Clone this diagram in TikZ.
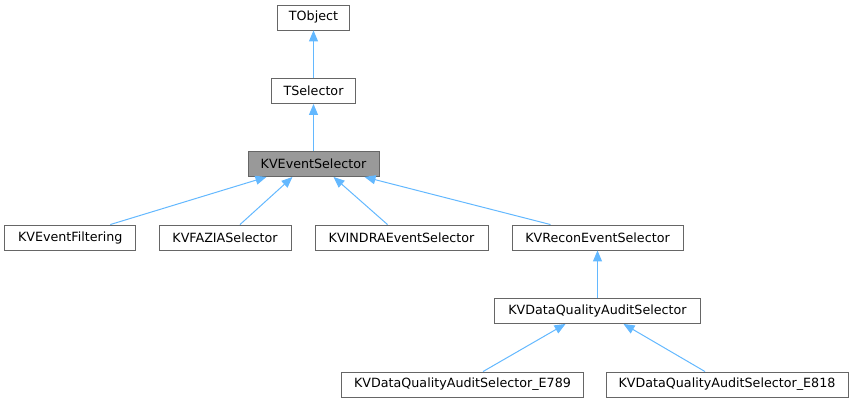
\documentclass[tikz,border=0pt]{standalone}
\usepackage{fontspec}
\setmainfont{DejaVu Sans}
\definecolor{BoxColor}{RGB}{102,102,102}
\definecolor{BaseColor}{RGB}{153,153,153}
\definecolor{EdgeColor}{RGB}{99,184,255}
\usetikzlibrary{positioning, arrows.meta}
\tikzstyle{cls} = [draw=BoxColor, fill=white, line width=0.9pt, minimum height=25pt, inner sep=0pt, font=\fontsize{12.7}{15}\selectfont]
\tikzstyle{base} = [cls, fill=BaseColor]
\tikzstyle{edge} = [draw=EdgeColor, line width=1pt, -{Triangle[length=11pt,width=9pt]}]

\begin{document}
\begin{tikzpicture}[x=1pt, y=-1pt]
    \useasboundingbox (0,0) rectangle (859,403);

    % Root classes
    \node[cls, minimum width=72pt] (tobj) at (313.5,17.5) {TObject};
    \node[cls, minimum width=84pt] (tsel) at (313.5,91) {TSelector};
    \node[base, minimum width=131pt] (evsel) at (313.5,164) {KVEventSelector};

    % Derived selectors
    \node[cls, minimum width=131pt] (filt) at (70.3,237.5) {KVEventFiltering};
    \node[cls, minimum width=132pt] (fazia) at (225,237.5) {KVFAZIASelector};
    \node[cls, minimum width=173pt] (indra) at (401.5,237.5) {KVINDRAEventSelector};
    \node[cls, minimum width=171pt] (recon) at (597.5,237.5) {KVReconEventSelector};
    \node[cls, minimum width=206pt] (dqa) at (597.5,311) {KVDataQualityAuditSelector};
    \node[cls, minimum width=242pt] (e789) at (462.5,384.5) {KVDataQualityAuditSelector\_E789};
    \node[cls, minimum width=242pt] (e818) at (727,384.5) {KVDataQualityAuditSelector\_E818};

    % Inheritance
    \draw[edge] (tsel.north) -- (tobj.south);
    \draw[edge] (evsel.north) -- (tsel.south);
    \draw[edge] ([xshift=40pt]filt.north) -- ([xshift=-47pt]evsel.south);
    \draw[edge] ([xshift=15pt]fazia.north) -- ([xshift=-21pt]evsel.south);
    \draw[edge] ([xshift=-14pt]indra.north) -- ([xshift=20pt]evsel.south);
    \draw[edge] ([xshift=-47pt]recon.north) -- ([xshift=51pt]evsel.south);
    \draw[edge] (dqa.north) -- (recon.south);
    \draw[edge] ([xshift=20.5pt]e789.north) -- ([xshift=-32pt]dqa.south);
    \draw[edge] ([xshift=-22pt]e818.north) -- ([xshift=26pt]dqa.south);
\end{tikzpicture}
\end{document}
